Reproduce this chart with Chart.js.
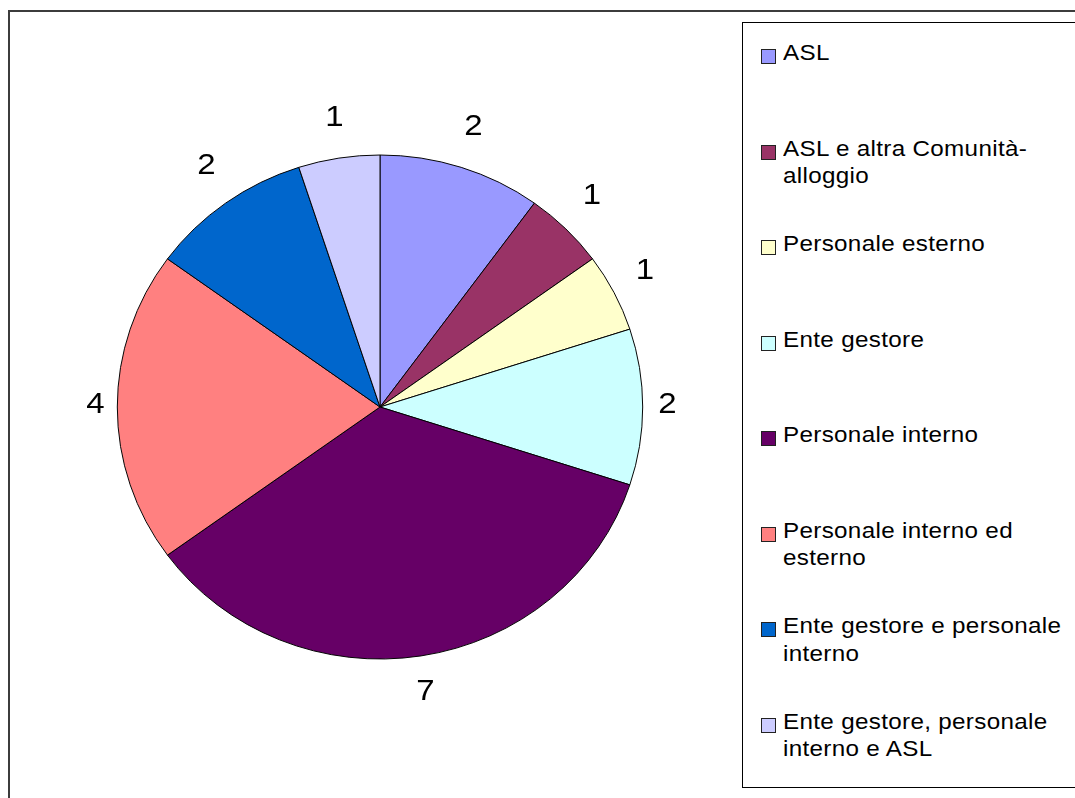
<!DOCTYPE html>
<html>
<head>
<meta charset="utf-8">
<script src="https://cdn.jsdelivr.net/npm/chart.js@4"></script>
<style>
  html, body { margin:0; padding:0; background:#fff; overflow:hidden; }
  body { width:1075px; height:798px; position:relative; font-family:"Liberation Sans", Arial, sans-serif; }
  #frame { position:absolute; left:8px; top:10px; width:2000px; height:2000px; border:2px solid #3c3c3c; box-sizing:border-box; }
  #wrap { position:absolute; left:0; top:0; width:1075px; height:798px; }
  #legend { position:absolute; left:742px; top:22px; width:400px; height:766px; border:1px solid #000; box-sizing:border-box; background:#fff; }
  .sw { position:absolute; width:13px; height:13px; border:1px solid #222; }
  .tx { position:absolute; font-size:22px; line-height:27.3px; letter-spacing:0.3px; color:#000; width:260px; white-space:normal; transform:scaleX(1.1); transform-origin:0 0; }
</style>
</head>
<body>
<div id="frame"></div>
<div id="wrap"><canvas id="c" width="1075" height="798"></canvas></div>
<div id="legend"></div>
<script>
const categories = [
  "ASL",
  "ASL e altra Comunità-alloggio",
  "Personale esterno",
  "Ente gestore",
  "Personale interno",
  "Personale interno ed esterno",
  "Ente gestore e personale interno",
  "Ente gestore, personale interno e ASL"
];
const values = [2, 1, 1, 2, 7, 4, 2, 1];
const colors = ["#9999FF", "#993366", "#FFFFCC", "#CCFFFF", "#660066", "#FF8080", "#0066CC", "#CCCCFF"];

const RX = 262.7, RY = 252;

const ellipsePlugin = {
  id: 'ellipse',
  beforeDatasetsDraw(chart) {
    const arc = chart.getDatasetMeta(0).data[0];
    const ctx = chart.ctx;
    ctx.save();
    ctx.translate(arc.x, arc.y);
    ctx.scale(1, RY / RX);
    ctx.translate(-arc.x, -arc.y);
  },
  afterDatasetsDraw(chart) {
    chart.ctx.restore();
  }
};

const labelPlugin = {
  id: 'outLabels',
  afterDraw(chart) {
    const ctx = chart.ctx;
    const meta = chart.getDatasetMeta(0);
    const fs = 30;
    const g = 6.5, hw = 15.3, hh = 29.8;
    meta.data.forEach((arc, i) => {
      const a = (arc.startAngle + arc.endAngle) / 2;
      const c = Math.cos(a), s = Math.sin(a);
      const r = 1 / Math.sqrt((c / RX) ** 2 + (s / RY) ** 2);
      const d = r + g + hw * Math.abs(c) + hh * Math.abs(s);
      const bx = arc.x + c * d + (c > 0.3 ? 3 : 0);
      const by = arc.y + s * d;
      const inkY = by - 5;
      ctx.save();
      ctx.font = fs + 'px "Liberation Sans", Arial, sans-serif';
      ctx.fillStyle = '#000';
      ctx.textAlign = 'center';
      ctx.textBaseline = 'alphabetic';
      ctx.translate(bx, inkY + 0.358 * fs);
      ctx.scale(1.1, 1);
      ctx.fillText(String(chart.data.datasets[0].data[i]), 0, 0);
      ctx.restore();
    });
  }
};

new Chart(document.getElementById('c'), {
  type: 'pie',
  data: {
    labels: categories,
    datasets: [{
      data: values,
      backgroundColor: colors,
      borderColor: '#000',
      borderWidth: 1,
      hoverOffset: 0,
      radius: RX
    }]
  },
  options: {
    responsive: false,
    animation: false,
    events: [],
    layout: { padding: { left: 0, right: 315, top: 16, bottom: 0 } },
    plugins: { legend: { display: false }, tooltip: { enabled: false } }
  },
  plugins: [ellipsePlugin, labelPlugin]
});

// HTML legend built from the same arrays
const leg = document.getElementById('legend');
categories.forEach((name, i) => {
  const cy = 31 + i * 95.5; // first-line centre relative to legend box top
  const sw = document.createElement('div');
  sw.className = 'sw';
  sw.style.left = '18px';
  sw.style.top = (cy - 4 - 1) + 'px';
  sw.style.background = colors[i];
  leg.appendChild(sw);
  const tx = document.createElement('div');
  tx.className = 'tx';
  tx.style.left = '40px';
  tx.style.top = (cy - 13.65 - 1) + 'px';
  tx.textContent = name;
  leg.appendChild(tx);
});
</script>
</body>
</html>
